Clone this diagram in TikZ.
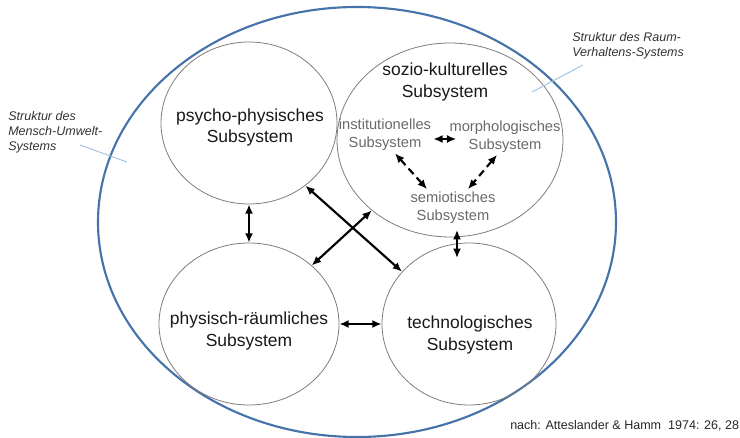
\documentclass[tikz,border=0pt]{standalone}
\usepackage{fontspec}
\setmainfont{Liberation Sans}
\usetikzlibrary{shapes.geometric,arrows.meta,calc}
\definecolor{ringgray}{RGB}{125,125,125}
\definecolor{outerblue}{RGB}{70,115,170}
\definecolor{leaderblue}{RGB}{160,195,225}
\definecolor{subgray}{RGB}{105,105,105}
\definecolor{notegray}{RGB}{50,50,50}
\tikzset{
  ring/.style={draw=ringgray, line width=0.6pt, ellipse, inner sep=0pt},
  mainlabel/.style={align=center, inner sep=0pt, text=black!90, font=\fontsize{13.1}{15.8}\selectfont},
  sublabel/.style={align=center, inner sep=0pt, text=subgray, font=\fontsize{11}{13.2}\selectfont},
  notelabel/.style={align=left, inner sep=0pt, text=notegray, font=\fontsize{9.4}{11.3}\selectfont\itshape},
  citelabel/.style={inner sep=0pt, text=black!85, font=\fontsize{9.4}{11.3}\selectfont},
  biarrow/.style={{Latex[length=7pt,width=6pt]}-{Latex[length=7pt,width=6pt]}, line width=1.6pt, black},
  dasharrow/.style={biarrow, line width=1.6pt, dash pattern=on 5.5pt off 3.5pt},
  leader/.style={draw=leaderblue, line width=0.7pt}
}
\begin{document}
\begin{tikzpicture}[x=0.75pt,y=-0.75pt]
\path[use as bounding box] (0,0) rectangle (740,438);
% outer blue ellipse
\draw[outerblue, line width=1.6pt] (357,222) ellipse [x radius=194.25pt, y radius=161.25pt];
% main rings
\node[ring, minimum width=132pt, minimum height=121.5pt] (psy) at (249,123) {};
\node[ring, minimum width=135pt, minimum height=121.5pt] (phy) at (249,324) {};
\node[ring, minimum width=130.5pt, minimum height=121.5pt] (tec) at (469,324) {};
\node[ring, minimum width=169.5pt, minimum height=145.5pt] (soz) at (450,140) {};
% main labels
\node[mainlabel] (psyl) at (250,127.5) {psycho-physisches\\Subsystem};
\node[mainlabel] (phyl) at (249,331) {physisch-räumliches\\Subsystem};
\node[mainlabel] (tecl) at (470,335) {technologisches\\Subsystem};
\node[mainlabel] (sozl) at (445,82) {sozio-kulturelles\\Subsystem};
% sub labels
\node[sublabel] (inst) at (385,134.5) {institutionelles\\Subsystem};
\node[sublabel] (morph) at (505,137) {morphologisches\\Subsystem};
\node[sublabel] (semio) at (453,208) {semiotisches\\Subsystem};
% annotations
\node[notelabel, anchor=west] (noteL) at (8,132) {Struktur des\\Mensch-Umwelt-\\Systems};
\node[notelabel, anchor=west] (noteR) at (572,45.5) {Struktur des Raum-\\Verhaltens-Systems};
\node[citelabel, anchor=west] (cite) at (510,426) {nach: Atteslander \& Hamm\ \ 1974: 26, 28};
% leader lines
\coordinate (lL1) at (80,145);
\coordinate (lL2) at (127,162);
\coordinate (lR1) at (532,92);
\coordinate (lR2) at (583,65);
\draw[leader] (lL1) -- (lL2);
\draw[leader] (lR1) -- (lR2);
% main arrows
\draw[biarrow] (psy.south) -- (phy.north);
\draw[biarrow] (psy.-48) -- (tec.142);
\draw[biarrow] (phy.43) -- (soz.222);
\draw[biarrow] (phy.east) -- (tec.west);
\coordinate (st1) at (457,230);
\coordinate (st2) at (457,258);
\draw[biarrow] (st1) -- (st2);
% dashed arrows inside sozio-kulturelles
\draw[dasharrow, dash pattern=on 20pt off 0pt] ($(inst.east)+(2,4.5)$) -- ($(morph.west)+(7,2)$);
\draw[dasharrow] ($(inst.south)+(10,3)$) -- ($(semio.north)+(-26,-3)$);
\draw[dasharrow] ($(morph.south)+(-8,2)$) -- ($(semio.north)+(15,-3)$);
\end{tikzpicture}
\end{document}
